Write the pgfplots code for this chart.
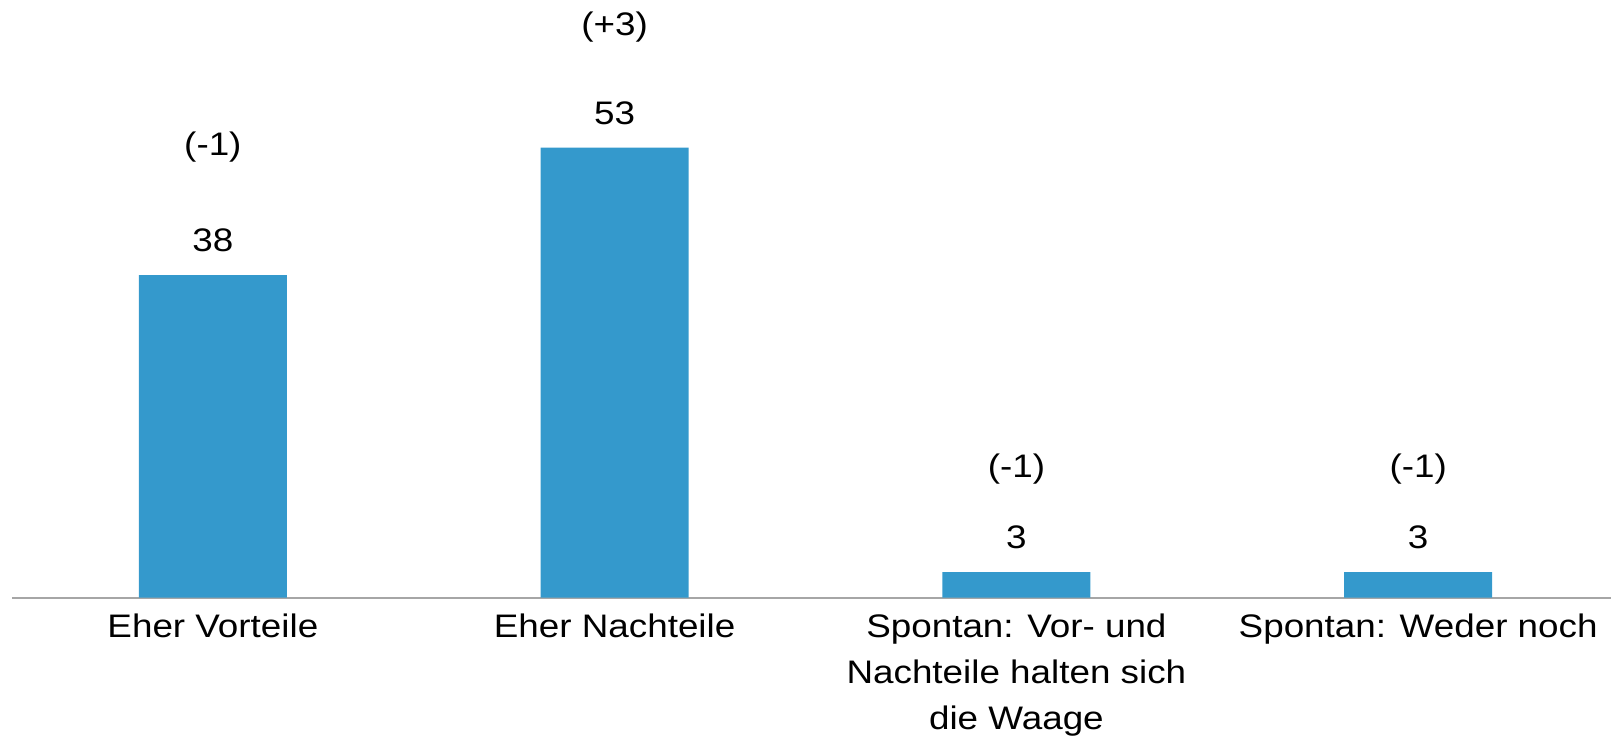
\documentclass[border=0pt]{standalone}
\usepackage{fontspec}
\setmainfont{Liberation Sans}[FakeStretch=1.13]
\usepackage{pgfplots}
\usepackage{pgfplotstable}
\pgfplotsset{compat=1.18}
\definecolor{barblue}{RGB}{52,153,204}
\definecolor{axisgray}{RGB}{166,166,166}
\pgfplotstableread{
x y
0 38
1 53
2 3
3 3
}\bardata
\pgfplotstableread{
x y label
0 52.1 (-1)
1 66.2 (+3)
2 14.1 (-1)
3 14.1 (-1)
}\chgdata
\begin{document}
\begin{tikzpicture}
\begin{axis}[
  scale only axis,
  width=800pt, height=299pt,
  xmin=-0.5, xmax=3.48,
  ymin=0, ymax=70.4,
  enlargelimits=false,
  clip=false,
  axis y line=none,
  axis x line*=bottom,
  axis line style={draw=axisgray, line width=1pt},
  xtick={0,1,2,3},
  xticklabels={Eher Vorteile, Eher Nachteile, {Spontan: Vor- und\\Nachteile halten sich\\die Waage}, Spontan: Weder noch},
  xtick style={draw=none},
  major tick length=0pt,
  xticklabel style={align=center, inner sep=0pt, yshift=-8pt, font=\fontsize{16.3}{23}\selectfont},
  /pgf/number format/assume math mode=true,
]
\addplot[ybar, bar width=74pt, bar shift=0pt, fill=barblue, draw=none,
  nodes near coords,
  every node near coord/.append style={anchor=base, inner sep=0pt, yshift=11.6pt, font=\fontsize{16.3}{20}\selectfont, text=black}]
  table[x=x, y=y] {\bardata};
\addplot[draw=none, mark=none,
  point meta=explicit symbolic,
  nodes near coords,
  every node near coord/.append style={anchor=base, inner sep=0pt, font=\fontsize{16.3}{20}\selectfont, text=black}]
  table[x=x, y=y, meta=label] {\chgdata};
\end{axis}
\path (current axis.south west) ++(-6pt,0);
\path (current axis.north west) ++(-6pt,0);
\end{tikzpicture}
\end{document}
